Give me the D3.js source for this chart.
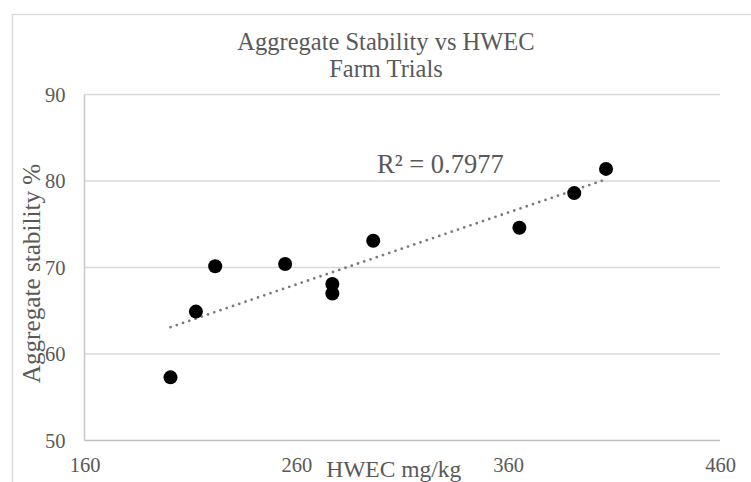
<!DOCTYPE html>
<html><head><meta charset="utf-8">
<script src="https://cdn.jsdelivr.net/npm/d3@7"></script>
<style>body{margin:0;background:#fff;} svg{display:block;font-family:"Liberation Serif","Times New Roman",serif;}</style>
</head><body>
<svg id="c" width="751" height="482"></svg>
<script>
const hwec = [200.6, 212.6, 221.7, 254.7, 277, 277, 296.3, 365.3, 391.2, 406.2];
const stability = [57.3, 64.9, 70.15, 70.4, 68.1, 67.0, 73.1, 74.6, 78.6, 81.4];
const xTicks = [160, 260, 360, 460];
const yTicks = [50, 60, 70, 80, 90];
const titleLines = ["Aggregate Stability vs HWEC", "Farm Trials"];
const xTitle = "HWEC mg/kg";
const yTitle = "Aggregate stability %";
const r2Label = "R² = 0.7977";

const svg = d3.select("#c");
const txt = "#595959";
const x = d3.scaleLinear().domain([160, 460]).range([84.5, 720]);
const y = d3.scaleLinear().domain([50, 90]).range([440.5, 94.5]);

// chart border
svg.append("rect").attr("x", 12.5).attr("y", 14.5).attr("width", 800).attr("height", 600)
  .attr("fill", "none").attr("stroke", "#d9d9d9").attr("stroke-width", 1.3);

// gridlines
svg.append("g").selectAll("line").data(yTicks.filter(d => d > 50)).join("line")
  .attr("x1", x(160)).attr("x2", x(460)).attr("y1", d => y(d)).attr("y2", d => y(d))
  .attr("stroke", "#d9d9d9").attr("stroke-width", 1.3);
// axis lines
svg.append("line").attr("x1", x(160)).attr("x2", x(160)).attr("y1", y(90)).attr("y2", y(50))
  .attr("stroke", "#c8c8c8").attr("stroke-width", 1.5);
svg.append("line").attr("x1", x(160)).attr("x2", x(460)).attr("y1", y(50)).attr("y2", y(50))
  .attr("stroke", "#bfbfbf").attr("stroke-width", 1.5);

// axes labels via d3 axes
const xa = svg.append("g").attr("transform", `translate(0,${y(50)})`)
  .call(d3.axisBottom(x).tickValues(xTicks).tickSize(0).tickPadding(0));
xa.select(".domain").remove();
xa.selectAll("text").attr("dy", null).attr("y", 31).attr("fill", txt)
  .attr("font-size", 20.5).attr("font-family", "Liberation Serif");

const ya = svg.append("g").attr("transform", `translate(${x(160)},0)`)
  .call(d3.axisLeft(y).tickValues(yTicks).tickSize(0).tickPadding(19));
ya.select(".domain").remove();
ya.selectAll("text").attr("fill", txt).attr("font-size", 20.5).attr("font-family", "Liberation Serif");

// trendline (least squares from data)
const n = hwec.length;
const mx = d3.mean(hwec), my = d3.mean(stability);
let sxy = 0, sxx = 0;
for (let i = 0; i < n; i++) { sxy += (hwec[i]-mx)*(stability[i]-my); sxx += (hwec[i]-mx)**2; }
const slope = sxy/sxx, icpt = my - slope*mx;
const x0 = d3.min(hwec), x1 = d3.max(hwec);
svg.append("line").attr("x1", x(x0)).attr("y1", y(icpt+slope*x0))
  .attr("x2", x(x1)).attr("y2", y(icpt+slope*x1))
  .attr("stroke", "#7a7a7a").attr("stroke-width", 2.8)
  .attr("stroke-linecap", "round").attr("stroke-dasharray", "0 6.6");

// points
svg.append("g").selectAll("circle").data(hwec.map((v, i) => [v, stability[i]])).join("circle")
  .attr("cx", d => x(d[0])).attr("cy", d => y(d[1])).attr("r", 7).attr("fill", "#000");

// R² label
svg.append("text").attr("x", 377).attr("y", 173).attr("fill", txt).attr("font-size", 26.5)
  .text(r2Label);

// title
const t = svg.append("text").attr("text-anchor", "middle").attr("fill", txt).attr("font-size", 24.5);
t.selectAll("tspan").data(titleLines).join("tspan")
  .attr("x", 386).attr("y", (d, i) => 50 + i*27).text(d => d);

// axis titles
svg.append("text").attr("x", x(306)).attr("y", 477).attr("text-anchor", "middle")
  .attr("fill", txt).attr("font-size", 23.5).text(xTitle);
svg.append("text").attr("transform", "translate(40,273.5) rotate(-90)").attr("text-anchor", "middle")
  .attr("fill", txt).attr("font-size", 25.2).text(yTitle);
</script>
</body></html>
